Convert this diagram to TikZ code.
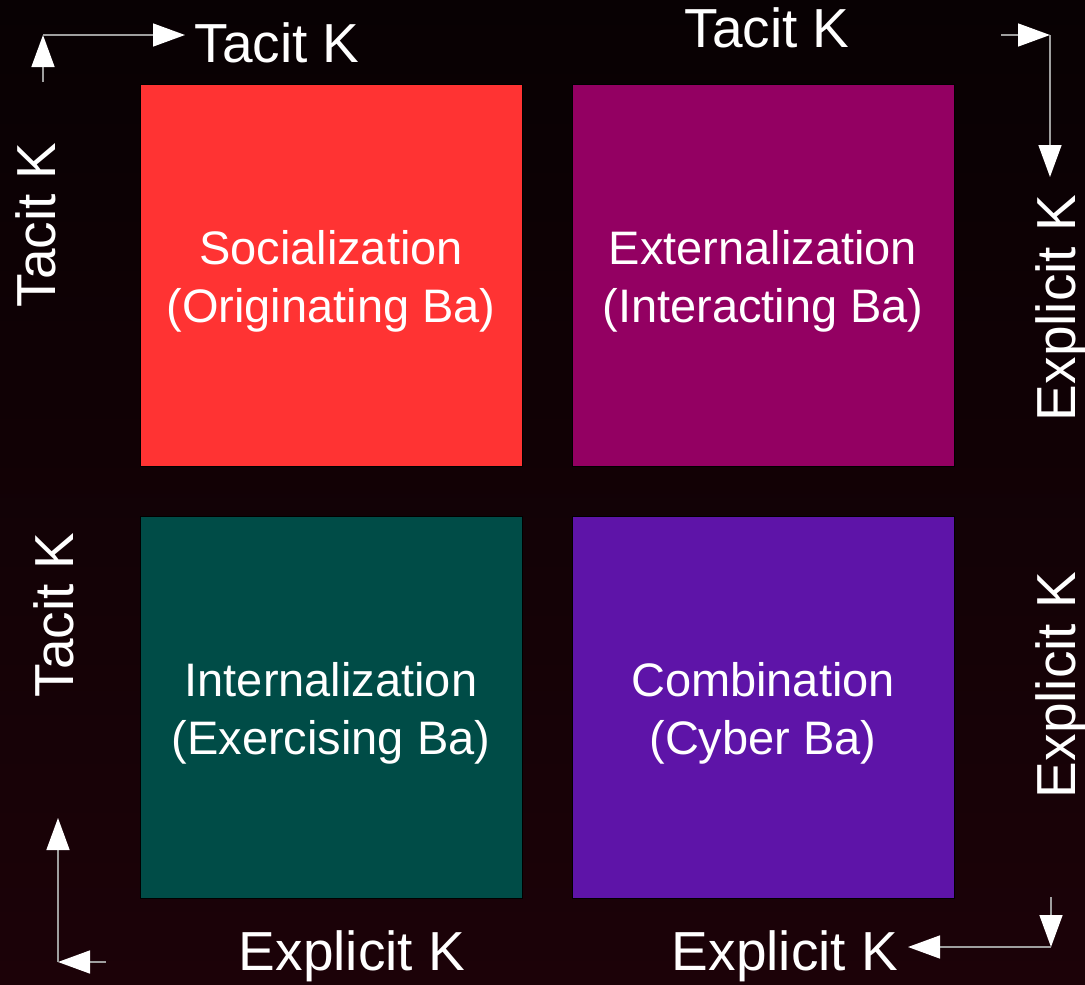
\documentclass[tikz,border=0pt]{standalone}
\usepackage{fontspec}
\setmainfont{Liberation Sans}
\usetikzlibrary{arrows.meta}
\definecolor{bgtop}{HTML}{080103}
\definecolor{bgbot}{HTML}{1C0208}
\definecolor{socred}{HTML}{FF3333}
\definecolor{extmag}{HTML}{930062}
\definecolor{intteal}{HTML}{004C47}
\definecolor{comvio}{HTML}{5E14A8}
\tikzset{
  quad/.style={draw=black,line width=1pt,minimum width=382pt,minimum height=382pt,inner sep=0pt},
  quadtext/.style={text=white,align=center,font=\fontsize{47}{58}\selectfont,inner sep=0pt},
  klabel/.style={text=white,font=\fontsize{55}{60}\selectfont,inner sep=0pt,anchor=base},
  karrow/.style={draw=gray!75,line width=1.5pt,-{Triangle[length=32pt,width=23pt,color=white]}}
}
\begin{document}
\begin{tikzpicture}[x=1pt,y=-1pt,line join=round]
		%==background
		\useasboundingbox (0,0) rectangle (1085,985);
		\shade[top color=bgtop,bottom color=bgbot] (0,0) rectangle (1085,985);
		%==the four quadrants
		\node[quad,fill=socred] (soc) at (331,275) {};
		\node[quad,fill=extmag] (ext) at (763,275) {};
		\node[quad,fill=intteal] (int) at (331,707) {};
		\node[quad,fill=comvio] (com) at (763,707) {};
		\node[quadtext] (soct) at ([yshift=-6pt]soc.center) {Socialization\\(Originating Ba)};
		\node[quadtext] (extt) at ([yshift=-6pt]ext.center) {Externalization\\(Interacting Ba)};
		\node[quadtext] (intt) at ([yshift=-6pt]int.center) {Internalization\\(Exercising Ba)};
		\node[quadtext] (comt) at ([yshift=-6pt]com.center) {Combination\\(Cyber Ba)};
		%==labels
		\node[klabel] (tk1) at (277,62) {Tacit K};
		\node[klabel] (tk2) at (767,47) {Tacit K};
		\node[klabel,rotate=90] (tk3) at (55,225) {Tacit K};
		\node[klabel,rotate=90] (tk4) at (73,615) {Tacit K};
		\node[klabel,rotate=90] (ek1) at (1075,308) {Explicit K};
		\node[klabel,rotate=90] (ek2) at (1075,685) {Explicit K};
		\node[klabel] (ek3) at (352,970) {Explicit K};
		\node[klabel] (ek4) at (785,970) {Explicit K};
		%==corner arrows
		\coordinate (tl0) at (43,82);
		\coordinate (tl1) at (43,35);
		\coordinate (tl2) at (185,35);
		\coordinate (tr0) at (1001,35);
		\coordinate (tr1) at (1050,35);
		\coordinate (tr2) at (1050,177);
		\coordinate (bl0) at (106,962);
		\coordinate (bl1) at (58,962);
		\coordinate (bl2) at (58,818);
		\coordinate (br0) at (1051,897);
		\coordinate (br1) at (1051,947);
		\coordinate (br2) at (908,947);
		\draw[karrow] (tl0)--(tl1);
		\draw[karrow] (tl1)--(tl2);
		\draw[karrow] (tr0)--(tr1);
		\draw[karrow] (tr1)--(tr2);
		\draw[karrow] (bl0)--(bl1);
		\draw[karrow] (bl1)--(bl2);
		\draw[karrow] (br0)--(br1);
		\draw[karrow] (br1)--(br2);
\end{tikzpicture}
\end{document}
